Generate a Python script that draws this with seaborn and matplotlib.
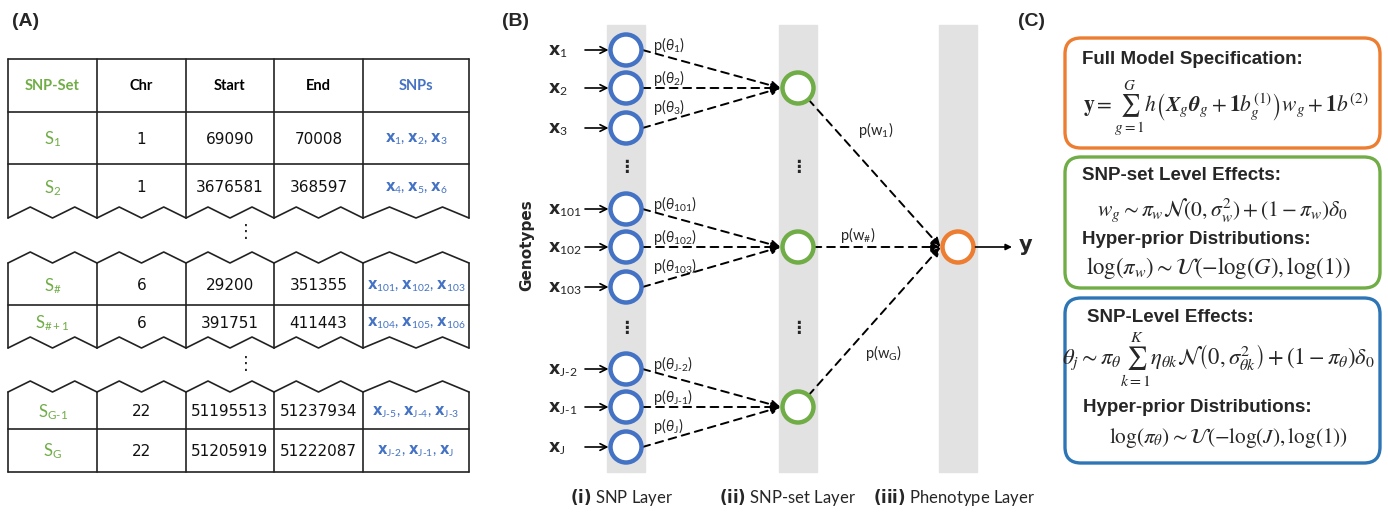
import numpy as np
import matplotlib
matplotlib.use("Agg")
import matplotlib.pyplot as plt
from matplotlib.patches import Circle, FancyBboxPatch
import seaborn as sns

sns.set_theme(style="white")
plt.rcParams["font.family"] = ["Lato", "DejaVu Sans"]
plt.rcParams["mathtext.fontset"] = "custom"
plt.rcParams["mathtext.rm"] = "Lato"
plt.rcParams["mathtext.it"] = "Lato:italic"
plt.rcParams["mathtext.bf"] = "DejaVu Sans:bold"
plt.rcParams["mathtext.sf"] = "Lato"
plt.rcParams["mathtext.fallback"] = "stixsans"

# ---- data ----
# (A) table
table_header = ["SNP-Set", "Chr", "Start", "End", "SNPs"]
set_ids = ["1", "2", r"\#", r"\#+1", "G‐1", "G"]
chroms = [1, 1, 6, 6, 22, 22]
starts = [69090, 3676581, 29200, 391751, 51195513, 51205919]
ends = [70008, 368597, 351355, 411443, 51237934, 51222087]
snp_ids = [["1", "2", "3"], ["4", "5", "6"], ["101", "102", "103"],
           ["104", "105", "106"], ["J‐5", "J‐4", "J‐3"], ["J‐2", "J‐1", "J"]]

# (B) network
snp_nodes = ["1", "2", "3", "101", "102", "103", "J‐2", "J‐1", "J"]
set_nodes = ["1", r"\#", "G"]
layer_names = ["(i)", "(ii)", "(iii)"]
layer_titles = ["SNP Layer", "SNP-set Layer", "Phenotype Layer"]

# (C) model boxes
box_titles = [["Full Model Specification:"],
              ["SNP-set Level Effects:", "Hyper-prior Distributions:"],
              ["SNP-Level Effects:", "Hyper-prior Distributions:"]]
box_eqs = [[r"$\mathbf{y} = \sum_{g=1}^{G} h\left(\mathbfit{X}_g\mathbfit{\theta}_g + \mathbf{1}b_g^{(1)}\right)w_g + \mathbf{1}b^{(2)}$"],
           [r"$w_g \sim \pi_w\mathcal{N}(0,\sigma_w^2) + (1-\pi_w)\delta_0$",
            r"$\log(\pi_w) \sim \mathcal{U}(-\log(G),\log(1))$"],
           [r"$\theta_j \sim \pi_\theta\sum_{k=1}^{K}\eta_{\theta k}\mathcal{N}\left(0,\sigma_{\theta k}^2\right) + (1-\pi_\theta)\delta_0$",
            r"$\log(\pi_\theta) \sim \mathcal{U}(-\log(J),\log(1))$"]]

GREEN = "#70AD47"
BLUE = "#4472C4"
ORANGE = "#ED7D31"
BOXBLUE = "#2E75B6"
GRAY = "#E2E2E2"

fig = plt.figure(figsize=(13.88, 5.14), dpi=100)
ax = fig.add_axes([0, 0, 1, 1])
ax.set_xlim(0, 1388)
ax.set_ylim(514, 0)
ax.axis("off")

# panel labels
for lab, x in zip(["(A)", "(B)", "(C)"], [26, 516, 1032]):
    ax.text(x, 22, lab, fontsize=14, fontweight="bold", ha="center", va="center",
            family="Liberation Sans")

# ---------------- (A) table ----------------
col_x = np.array([8, 97, 186, 274, 363, 469])
col_c = (col_x[:-1] + col_x[1:]) / 2
amp = 11
lw_t = 1.2


def zigzag(base):
    for x0, x1 in zip(col_x[:-1], col_x[1:]):
        w = x1 - x0
        xs = [x0, x0 + w / 4, x0 + w / 2, x0 + 3 * w / 4, x1]
        ys = [base, base - amp, base, base - amp, base]
        ax.plot(xs, ys, color="#222222", lw=lw_t)


# block 1
ax.plot([col_x[0], col_x[-1]], [59, 59], color="#222222", lw=lw_t)
for y in [112, 164]:
    ax.plot([col_x[0], col_x[-1]], [y, y], color="#222222", lw=lw_t)
zigzag(218)
for x in col_x:
    ax.plot([x, x], [59, 218], color="#222222", lw=lw_t)
# block 2
zigzag(263)
ax.plot([col_x[0], col_x[-1]], [305, 305], color="#222222", lw=lw_t)
zigzag(348)
for x in col_x:
    ax.plot([x, x], [263, 348], color="#222222", lw=lw_t)
# block 3
zigzag(392)
ax.plot([col_x[0], col_x[-1]], [429, 429], color="#222222", lw=lw_t)
ax.plot([col_x[0], col_x[-1]], [472, 472], color="#222222", lw=lw_t)
for x in col_x:
    ax.plot([x, x], [392, 472], color="#222222", lw=lw_t)

for y in [232, 364]:
    ax.text(246, y, "⋮", fontsize=13, ha="center", va="center", family="DejaVu Sans")

head_colors = [GREEN, "black", "black", "black", BLUE]
for h, c, x in zip(table_header, head_colors, col_c):
    ax.text(x, 86, h, fontsize=10.5, fontweight="bold", color=c, ha="center", va="center")

row_y = [139, 188, 286, 323, 412, 451]
for i, y in enumerate(row_y):
    ax.text(col_c[0], y, r"$\mathrm{S}_{\mathrm{%s}}$" % set_ids[i], fontsize=12,
            color=GREEN, ha="center", va="center")
    ax.text(col_c[1], y, str(chroms[i]), fontsize=11, ha="center", va="center",
            family="DejaVu Sans", color="#111111")
    ax.text(col_c[2], y, str(starts[i]), fontsize=11, ha="center", va="center",
            family="DejaVu Sans", color="#111111")
    ax.text(col_c[3], y, str(ends[i]), fontsize=11, ha="center", va="center",
            family="DejaVu Sans", color="#111111")
    s = ", ".join(r"$\mathbf{x}_{\mathrm{%s}}$" % k for k in snp_ids[i])
    ax.text(col_c[4], y, s, fontsize=10.5, color=BLUE, ha="center", va="center")

# ---------------- (B) network ----------------
layer_x = [626, 798, 958]
for x in layer_x:
    ax.add_patch(plt.Rectangle((x - 19, 25), 38, 447, color=GRAY, zorder=0))

group_y = [88, 247, 407]
offsets = [-38, 0, 40]
snp_y = [g + o for g in group_y for o in offsets]
r = 15.5
ring = 3.2
theta_dy = [-5, -10, -21]

for i, (lab, y) in enumerate(zip(snp_nodes, snp_y)):
    ax.add_patch(Circle((layer_x[0], y), r, facecolor="white", edgecolor=BLUE, lw=ring, zorder=3))
    ax.text(548, y + 2, r"$\mathbf{x}_{\mathrm{%s}}$" % lab, fontsize=12.5, ha="left", va="center")
    ax.annotate("", xy=(layer_x[0] - r - 2, y), xytext=(585, y),
                arrowprops=dict(arrowstyle="->", lw=1.2, color="black",
                                shrinkA=0, shrinkB=0))
    gy = group_y[i // 3]
    ax.annotate("", xy=(layer_x[1] - r - 2, gy), xytext=(layer_x[0] + r + 1, y),
                arrowprops=dict(arrowstyle="-|>", lw=1.4, color="black", linestyle=(0, (4, 3)),
                                mutation_scale=13, shrinkA=0, shrinkB=0), zorder=2)
    ax.text(653, y + theta_dy[i % 3], r"$\mathrm{p}(\theta_{\mathrm{%s}})$" % lab, fontsize=10.5,
            ha="left", va="center")

for y in [167, 328]:
    for x in layer_x[:2]:
        ax.text(x, y, "⋮", fontsize=12, ha="center", va="center", family="DejaVu Sans",
                fontweight="bold")

w_pos = [(858, 130), (840, 235), (865, 353)]
for lab, gy, (tx, ty) in zip(set_nodes, group_y, w_pos):
    ax.add_patch(Circle((layer_x[1], gy), r, facecolor="white", edgecolor=GREEN, lw=ring, zorder=3))
    dx, dy = layer_x[2] - r - layer_x[1], group_y[1] - gy
    d = np.hypot(dx, dy)
    x0, y0 = layer_x[1] + r * dx / d, gy + r * dy / d
    ax.annotate("", xy=(layer_x[2] - r - 2, group_y[1]), xytext=(x0, y0),
                arrowprops=dict(arrowstyle="-|>", lw=1.4, color="black", linestyle=(0, (4, 3)),
                                mutation_scale=13, shrinkA=0, shrinkB=0), zorder=2)
    ax.text(tx, ty, r"$\mathrm{p}(\mathrm{w}_{\mathrm{%s}})$" % lab, fontsize=10.5,
            ha="left", va="center")

ax.add_patch(Circle((layer_x[2], group_y[1]), r, facecolor="white", edgecolor=ORANGE, lw=ring, zorder=3))
ax.annotate("", xy=(1012, group_y[1]), xytext=(layer_x[2] + r + 2, group_y[1]),
            arrowprops=dict(arrowstyle="-|>", lw=1.2, color="black", mutation_scale=9,
                            shrinkA=0, shrinkB=0))
ax.text(1019, group_y[1] - 2, "y", fontsize=15, fontweight="bold", ha="left", va="center",
        family="DejaVu Sans")

ax.text(527, 245, "Genotypes", fontsize=11, fontweight="bold", rotation=90,
        ha="center", va="center", family="DejaVu Sans")

label_cx = [622, 787, 954]
for n, t, x in zip(layer_names, layer_titles, label_cx):
    ax.text(x, 498, r"$\mathbf{%s}$ %s" % (n, t), fontsize=12, ha="center", va="center")

# ---------------- (C) model boxes ----------------
boxes = [(38, 148, ORANGE), (157, 288, GREEN), (298, 463, BOXBLUE)]
for y0, y1, c in boxes:
    ax.add_patch(FancyBboxPatch((1065, y0), 315, y1 - y0,
                                boxstyle="round,pad=0,rounding_size=16",
                                facecolor="white", edgecolor=c, lw=2.4))

title_pos = [[(1082, 60)], [(1082, 175), (1082, 240)], [(1087, 318), (1083, 408)]]
eq_pos = [[(1226, 108)], [(1222, 210), (1218, 268)], [(1218, 360), (1228, 438)]]
eq_size = [[15.5], [15.6, 16.4], [16.3, 15.3]]
for titles, eqs, tps, eps, szs in zip(box_titles, box_eqs, title_pos, eq_pos, eq_size):
    for t, (x, y) in zip(titles, tps):
        ax.text(x, y, t, fontsize=13.5, fontweight="bold", ha="left", va="center",
                family="Liberation Sans")
    for e, (x, y), sz in zip(eqs, eps, szs):
        ax.text(x, y, e, fontsize=sz, ha="center", va="center", math_fontfamily="stix")

fig.savefig("out.png", dpi=100)
